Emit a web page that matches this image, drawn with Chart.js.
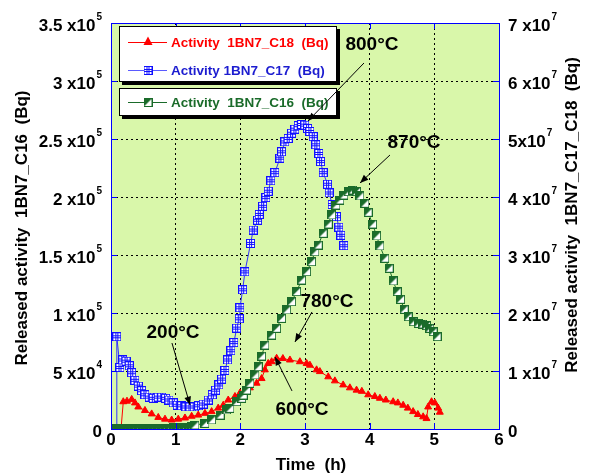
<!DOCTYPE html>
<html><head><meta charset="utf-8">
<script src="https://cdn.jsdelivr.net/npm/chart.js@4/dist/chart.umd.min.js"></script>
<style>html,body{margin:0;padding:0;background:#fff}canvas{display:block}</style>
</head><body>
<canvas id="c" width="594" height="476" style="width:594px;height:476px"></canvas>
<script>
// ---------- DATA ----------
const xTickValues = [0, 1, 2, 3, 4, 5, 6];
const xTickLabels = ['0', '1', '2', '3', '4', '5', '6'];
const leftTickValues = [0, 5e4, 1e5, 1.5e5, 2e5, 2.5e5, 3e5, 3.5e5];
const leftTickLabels = [['0',''],['5 x10','4'],['1 x10','5'],['1.5 x10','5'],['2 x10','5'],['2.5 x10','5'],['3 x10','5'],['3.5 x10','5']];
const rightTickValues = [0, 1e7, 2e7, 3e7, 4e7, 5e7, 6e7, 7e7];
const rightTickLabels = [['0',''],['1 x10','7'],['2 x10','7'],['3 x10','7'],['4 x10','7'],['5x10','7'],['6 x10','7'],['7 x10','7']];

const xTitle = 'Time  (h)';
const leftTitle = 'Released activity  1BN7_C16  (Bq)';
const rightTitle = 'Released activity  1BN7_C17_C18  (Bq)';

const seriesNames = ['Activity  1BN7_C18  (Bq)', 'Activity 1BN7_C17  (Bq)', 'Activity  1BN7_C16  (Bq)'];

// C17 (right axis, Bq)
const c17Time = [0.0, 0.085, 0.09, 0.139, 0.181, 0.232, 0.283, 0.32, 0.371, 0.422, 0.474, 0.525, 0.592, 0.654, 0.731, 0.784, 0.845, 0.896, 0.963, 1.025, 1.093, 1.159, 1.221, 1.287, 1.355, 1.427, 1.504, 1.566, 1.618, 1.669, 1.711, 1.762, 1.804, 1.855, 1.901, 1.943, 1.983, 1.994, 2.036, 2.071, 2.159, 2.199, 2.267, 2.292, 2.345, 2.396, 2.431, 2.473, 2.535, 2.612, 2.638, 2.689, 2.740, 2.793, 2.844, 2.895, 2.947, 2.998, 3.040, 3.076, 3.127, 3.168, 3.215, 3.241, 3.281, 3.349, 3.374, 3.420, 3.488, 3.524, 3.555, 3.601];
const c17Values = [0, 0, 1.59e7, 1.06e7, 1.19e7, 1.17e7, 1.09e7, 0.97e7, 0.84e7, 0.74e7, 0.66e7, 0.59e7, 0.55e7, 0.53e7, 0.55e7, 0.55e7, 0.53e7, 0.50e7, 0.45e7, 0.41e7, 0.40e7, 0.38e7, 0.38e7, 0.38e7, 0.40e7, 0.43e7, 0.50e7, 0.59e7, 0.67e7, 0.76e7, 0.86e7, 1.01e7, 1.19e7, 1.35e7, 1.49e7, 1.74e7, 1.90e7, 2.09e7, 2.40e7, 2.71e7, 3.20e7, 3.43e7, 3.60e7, 3.70e7, 3.84e7, 3.99e7, 4.10e7, 4.28e7, 4.42e7, 4.67e7, 4.78e7, 4.95e7, 5.01e7, 5.10e7, 5.17e7, 5.23e7, 5.25e7, 5.24e7, 5.18e7, 5.13e7, 5.04e7, 4.90e7, 4.75e7, 4.61e7, 4.42e7, 4.22e7, 4.07e7, 3.87e7, 3.66e7, 3.48e7, 3.34e7, 3.16e7];

// C18 (right axis, Bq)
const c18Time = [0.155, 0.19, 0.247, 0.32, 0.371, 0.422, 0.525, 0.629, 0.731, 0.835, 0.938, 1.040, 1.144, 1.247, 1.349, 1.453, 1.556, 1.658, 1.736, 1.813, 1.917, 1.994, 2.148, 2.252, 2.329, 2.38, 2.431, 2.484, 2.561, 2.658, 2.767, 2.921, 3.025, 3.076, 3.179, 3.230, 3.359, 3.462, 3.590, 3.694, 3.797, 3.879, 3.977, 4.080, 4.158, 4.25, 4.363, 4.436, 4.518, 4.590, 4.672, 4.745, 4.827, 4.879, 4.904, 4.957, 5.008, 5.059, 5.085];
const c18Values = [0, 0.47e7, 0.48e7, 0.51e7, 0.45e7, 0.38e7, 0.32e7, 0.26e7, 0.20e7, 0.17e7, 0.155e7, 0.17e7, 0.19e7, 0.22e7, 0.24e7, 0.27e7, 0.30e7, 0.36e7, 0.41e7, 0.50e7, 0.56e7, 0.62e7, 0.71e7, 0.79e7, 0.87e7, 1.02e7, 1.13e7, 1.16e7, 1.22e7, 1.215e7, 1.19e7, 1.16e7, 1.13e7, 1.10e7, 1.02e7, 0.99e7, 0.90e7, 0.83e7, 0.76e7, 0.71e7, 0.67e7, 0.65e7, 0.59e7, 0.56e7, 0.53e7, 0.50e7, 0.47e7, 0.45e7, 0.41e7, 0.36e7, 0.30e7, 0.25e7, 0.21e7, 0.18e7, 0.38e7, 0.47e7, 0.45e7, 0.36e7, 0.29e7];

// C16 (left axis, Bq)
const c16Time = [0.0, 0.06, 0.12, 0.18, 0.24, 0.30, 0.36, 0.42, 0.48, 0.54, 0.60, 0.66, 0.72, 0.78, 0.84, 0.90, 0.96, 1.02, 1.08, 1.14, 1.20, 1.25, 1.298, 1.453, 1.556, 1.688, 1.788, 1.839, 1.943, 2.020, 2.045, 2.097, 2.148, 2.226, 2.277, 2.329, 2.38, 2.484, 2.561, 2.638, 2.716, 2.793, 2.870, 2.947, 3.025, 3.102, 3.153, 3.204, 3.281, 3.359, 3.411, 3.478, 3.539, 3.601, 3.668, 3.736, 3.797, 3.848, 3.926, 3.977, 4.045, 4.107, 4.158, 4.235, 4.301, 4.363, 4.425, 4.478, 4.533, 4.595, 4.672, 4.750, 4.818, 4.879, 4.930, 4.981, 5.043];
const c16Values = [400, 500, 400, 500, 500, 400, 500, 500, 600, 500, 600, 600, 700, 700, 800, 800, 900, 1000, 1100, 1300, 1600, 2000, 3400, 4900, 7800, 12000, 16400, 17800, 23500, 26500, 29300, 33600, 39400, 46600, 53700, 62900, 72400, 81000, 86800, 95400, 102600, 109700, 118400, 128400, 135600, 144200, 152800, 158600, 168700, 176700, 184500, 193100, 197400, 201700, 204600, 206000, 204600, 200900, 194600, 186800, 176700, 166400, 157800, 147200, 138600, 127600, 118400, 111800, 103200, 96800, 92500, 91100, 90500, 89100, 86800, 83900, 79600];

const annotationLabels = ['800°C', '870°C', '780°C', '600°C', '200°C'];

// ---------- STYLE ----------
const FONT = 'Arial, "Liberation Sans", sans-serif';
const RED = '#ff0000', BLUE = '#0000ff', GREEN = '#1a6b2a';
const PLOT_BG = '#d9f7aa';

function makeGridSquare() {
  const s = 9, cv = document.createElement('canvas'); cv.width = s; cv.height = s;
  const g = cv.getContext('2d');
  g.fillStyle = '#ffffff'; g.fillRect(0, 0, s, s);
  g.strokeStyle = '#1010ff'; g.lineWidth = 1;
  g.strokeRect(0.5, 0.5, s - 1, s - 1);
  g.beginPath();
  g.moveTo(3.5, 0); g.lineTo(3.5, s); g.moveTo(5.5, 0); g.lineTo(5.5, s);
  g.moveTo(0, 3.5); g.lineTo(s, 3.5); g.moveTo(0, 5.5); g.lineTo(s, 5.5);
  g.stroke();
  return cv;
}
function makeHalfSquare() {
  const s = 9, cv = document.createElement('canvas'); cv.width = s; cv.height = s;
  const g = cv.getContext('2d');
  g.fillStyle = '#ffffff'; g.fillRect(0, 0, s, s);
  g.fillStyle = GREEN;
  g.beginPath(); g.moveTo(0, 0); g.lineTo(s, 0); g.lineTo(0, s); g.closePath(); g.fill();
  g.strokeStyle = GREEN; g.lineWidth = 1; g.strokeRect(0.5, 0.5, s - 1, s - 1);
  return cv;
}
const blueMarker = makeGridSquare();
const greenMarker = makeHalfSquare();

const toXY = (xs, ys) => xs.map((x, i) => ({x: x, y: ys[i]}));

const bgPlugin = {
  id: 'bg',
  beforeDraw(chart) {
    const {ctx, chartArea: a} = chart;
    ctx.save();
    ctx.fillStyle = '#ffffff'; ctx.fillRect(0, 0, chart.width, chart.height);
    ctx.fillStyle = PLOT_BG; ctx.fillRect(a.left, a.top, a.right - a.left, a.bottom - a.top);
    ctx.restore();
  }
};

function supLabel(ctx, base, exp, x, y, align) {
  ctx.font = 'bold 17px ' + FONT;
  const bw = ctx.measureText(base).width;
  ctx.font = 'bold 10px ' + FONT;
  const ew = exp ? ctx.measureText(exp).width + 1 : 0;
  const x0 = align === 'right' ? x - bw - ew : x;
  ctx.textAlign = 'left'; ctx.textBaseline = 'alphabetic'; ctx.fillStyle = '#000';
  ctx.font = 'bold 17px ' + FONT;
  ctx.fillText(base, x0, y + 7.5);
  if (exp) { ctx.font = 'bold 10px ' + FONT; ctx.fillText(exp, x0 + bw + 1, y - 3); }
}

function arrow(ctx, x1, y1, x2, y2) {
  ctx.strokeStyle = '#000'; ctx.fillStyle = '#000'; ctx.lineWidth = 1;
  ctx.beginPath(); ctx.moveTo(x1, y1); ctx.lineTo(x2, y2); ctx.stroke();
  const ang = Math.atan2(y2 - y1, x2 - x1), L = 9, W = 0.38;
  ctx.beginPath();
  ctx.moveTo(x2, y2);
  ctx.lineTo(x2 - L * Math.cos(ang - W), y2 - L * Math.sin(ang - W));
  ctx.lineTo(x2 - L * Math.cos(ang + W), y2 - L * Math.sin(ang + W));
  ctx.closePath(); ctx.fill();
}

const overlayPlugin = {
  id: 'overlay',
  afterDraw(chart) {
    const {ctx, chartArea: a, scales} = chart;
    const sx = scales.x, sy = scales.y, sy2 = scales.y2;
    ctx.save();
    // border
    ctx.strokeStyle = BLUE; ctx.lineWidth = 1;
    ctx.strokeRect(a.left + 0.5, a.top + 0.5, a.right - a.left, a.bottom - a.top);
    // inward ticks
    ctx.beginPath();
    xTickValues.forEach(v => {
      const px = Math.round(sx.getPixelForValue(v)) + 0.5;
      ctx.moveTo(px, a.bottom); ctx.lineTo(px, a.bottom - 6);
      ctx.moveTo(px, a.top); ctx.lineTo(px, a.top + 6);
    });
    leftTickValues.forEach(v => {
      const py = Math.round(sy.getPixelForValue(v)) + 0.5;
      ctx.moveTo(a.left, py); ctx.lineTo(a.left + 6, py);
    });
    rightTickValues.forEach(v => {
      const py = Math.round(sy2.getPixelForValue(v)) + 0.5;
      ctx.moveTo(a.right, py); ctx.lineTo(a.right - 6, py);
    });
    ctx.stroke();

    // tick labels
    ctx.fillStyle = '#000';
    ctx.font = 'bold 17px ' + FONT; ctx.textAlign = 'center'; ctx.textBaseline = 'alphabetic';
    xTickValues.forEach((v, i) => ctx.fillText(xTickLabels[i], sx.getPixelForValue(v), a.bottom + 16));
    leftTickValues.forEach((v, i) => supLabel(ctx, leftTickLabels[i][0], leftTickLabels[i][1], 102, sy.getPixelForValue(v), 'right'));
    rightTickValues.forEach((v, i) => supLabel(ctx, rightTickLabels[i][0], rightTickLabels[i][1], 508, sy2.getPixelForValue(v), 'left'));

    // titles
    ctx.font = 'bold 17px ' + FONT; ctx.textAlign = 'center'; ctx.textBaseline = 'middle';
    ctx.fillText(xTitle, 311, 465);
    ctx.save(); ctx.translate(22, 228); ctx.rotate(-Math.PI / 2); ctx.fillText(leftTitle, 0, 0); ctx.restore();
    ctx.save(); ctx.translate(572, 215); ctx.rotate(-Math.PI / 2); ctx.fillText(rightTitle, 0, 0); ctx.restore();

    // legend boxes
    const boxes = [[119, 26, 218, 56], [119, 88, 218, 28]];
    boxes.forEach(b => {
      ctx.fillStyle = '#000'; ctx.fillRect(b[0] + 3, b[1] + 3, b[2], b[3]);
      ctx.fillStyle = '#fff'; ctx.fillRect(b[0], b[1], b[2], b[3]);
      ctx.strokeStyle = '#000'; ctx.lineWidth = 1; ctx.strokeRect(b[0] + 0.5, b[1] + 0.5, b[2] - 1, b[3] - 1);
    });
    const rows = [
      {y: 41.5, color: RED, line: RED, text: seriesNames[0], mk: 'tri'},
      {y: 70, color: '#1c1cd0', line: '#5a5aff', text: seriesNames[1], mk: blueMarker},
      {y: 101.5, color: GREEN, line: GREEN, text: seriesNames[2], mk: greenMarker}
    ];
    rows.forEach(r => {
      ctx.strokeStyle = r.line; ctx.lineWidth = 1;
      ctx.beginPath(); ctx.moveTo(128, Math.round(r.y) + 0.5); ctx.lineTo(167, Math.round(r.y) + 0.5); ctx.stroke();
      if (r.mk === 'tri') {
        ctx.fillStyle = RED; ctx.beginPath();
        ctx.moveTo(148, r.y - 5); ctx.lineTo(152.5, r.y + 3.5); ctx.lineTo(143.5, r.y + 3.5); ctx.closePath(); ctx.fill();
      } else {
        ctx.drawImage(r.mk, 148 - 4.5, Math.round(r.y) - 4);
      }
      ctx.fillStyle = r.color; ctx.font = 'bold 13.5px ' + FONT; ctx.textAlign = 'left'; ctx.textBaseline = 'alphabetic';
      ctx.fillText(r.text, 171, r.y + 5);
    });

    // annotations (text centre and arrow start/end in data units: hours, left-axis Bq)
    const ann = [
      {t: [4.036, 3.328e5], a: [3.912, 3.155e5], b: [3.046, 2.655e5]},
      {t: [4.686, 2.483e5], a: [4.314, 2.362e5], b: [3.851, 2.121e5]},
      {t: [3.340, 1.112e5], a: [3.108, 1.009e5], b: [2.845, 0.750e5]},
      {t: [2.954, 0.181e5], a: [2.799, 0.328e5], b: [2.536, 0.621e5]},
      {t: [0.959, 0.845e5], a: [0.943, 0.741e5], b: [1.222, 0.207e5]}
    ];
    ann.forEach((o, i) => {
      ctx.fillStyle = '#000'; ctx.font = 'bold 19px ' + FONT; ctx.textAlign = 'center'; ctx.textBaseline = 'alphabetic';
      ctx.fillText(annotationLabels[i], sx.getPixelForValue(o.t[0]), sy.getPixelForValue(o.t[1]) + 7);
      arrow(ctx, sx.getPixelForValue(o.a[0]), sy.getPixelForValue(o.a[1]), sx.getPixelForValue(o.b[0]), sy.getPixelForValue(o.b[1]));
    });
    ctx.restore();
  }
};

const gridCommon = {color: '#000000', lineWidth: 1, drawTicks: false};

new Chart(document.getElementById('c'), {
  type: 'scatter',
  data: {
    datasets: [
      {label: seriesNames[2], data: toXY(c16Time, c16Values), yAxisID: 'y', showLine: true,
       borderColor: GREEN, borderWidth: 1, pointStyle: greenMarker, pointRadius: 4.5, tension: 0},
      {label: seriesNames[1], data: toXY(c17Time, c17Values), yAxisID: 'y2', showLine: true,
       borderColor: '#3030ff', borderWidth: 1, pointStyle: blueMarker, pointRadius: 4.5, tension: 0},
      {label: seriesNames[0], data: toXY(c18Time, c18Values), yAxisID: 'y2', showLine: true,
       borderColor: RED, backgroundColor: RED, borderWidth: 1, pointStyle: 'triangle', pointRadius: 4, tension: 0}
    ]
  },
  options: {
    responsive: false, animation: false, devicePixelRatio: 1,
    layout: {padding: {top: 23, left: 0, right: 0, bottom: 0}},
    plugins: {legend: {display: false}, tooltip: {enabled: false}},
    scales: {
      x: {type: 'linear', min: 0, max: 6, ticks: {stepSize: 1, display: false},
          grid: gridCommon, border: {display: false, dash: [2, 3]},
          afterFit: s => { s.height = 47; }},
      y: {position: 'left', min: 0, max: 3.5e5, ticks: {stepSize: 5e4, display: false},
          grid: gridCommon, border: {display: false, dash: [2, 3]},
          afterFit: s => { s.width = 111; }},
      y2: {position: 'right', min: 0, max: 7e7, ticks: {stepSize: 1e7, display: false},
           grid: {display: false}, border: {display: false},
           afterFit: s => { s.width = 95; }}
    }
  },
  plugins: [bgPlugin, overlayPlugin]
});
</script>
</body></html>
